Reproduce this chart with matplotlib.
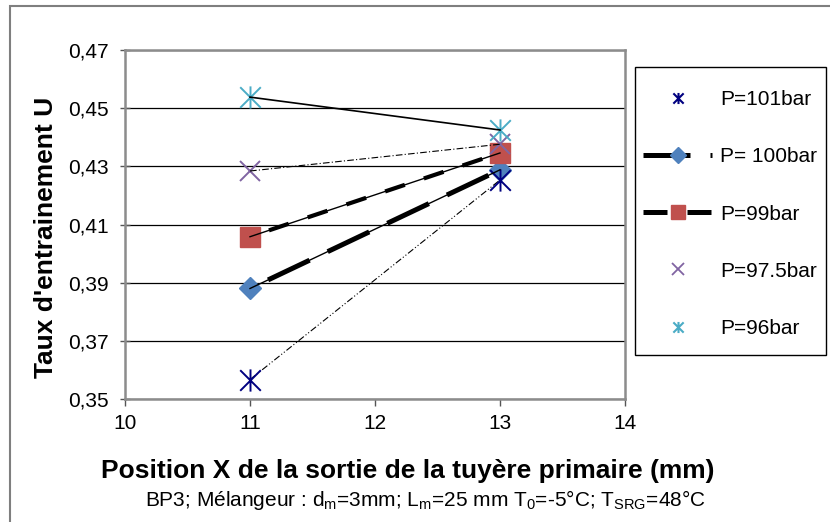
import matplotlib
matplotlib.use("agg")
import matplotlib.pyplot as plt
from matplotlib.lines import Line2D
from matplotlib.path import Path
from matplotlib.patches import Rectangle

plt.rcParams["font.family"] = ["Liberation Sans", "DejaVu Sans"]
plt.rcParams["mathtext.fontset"] = "custom"
plt.rcParams["mathtext.rm"] = "Liberation Sans"

# Données
positions = [11, 13]
labels = ["P=101bar", "P= 100bar", "P=99bar", "P=97.5bar", "P=96bar"]
u_101 = [0.3567, 0.4253]
u_100 = [0.3880, 0.4288]
u_99 = [0.4058, 0.4346]
u_975 = [0.4284, 0.4376]
u_96 = [0.4538, 0.4425]
y_ticks = [0.35, 0.37, 0.39, 0.41, 0.43, 0.45, 0.47]
x_ticks = [10, 11, 12, 13, 14]

# marqueur étoile style Excel : croix + trait vertical
star = Path([(-1, -1), (1, 1), (-1, 1), (1, -1), (0, -1.08), (0, 1.08)],
            [Path.MOVETO, Path.LINETO, Path.MOVETO, Path.LINETO, Path.MOVETO, Path.LINETO])

c101, c100, c99, c975, c96 = "#000080", "#4F81BD", "#C0504D", "#8064A2", "#4BACC6"

fig = plt.figure(figsize=(8.3, 5.22), dpi=100)
ax = fig.add_axes([0.1506, 0.2356, 0.6024, 0.6686])

# marqueurs
ax.plot(positions, u_100, ls="none", marker="D", ms=11, mfc=c100, mec=c100, zorder=3)
ax.plot(positions, u_99, ls="none", marker="s", ms=14.5, mfc=c99, mec=c99, zorder=3)
ax.plot(positions, u_101, ls="none", marker=star, ms=16, mec=c101, mew=1.4, zorder=3)
ax.plot(positions, u_975, ls="none", marker="x", ms=14, mec=c975, mew=1.4, zorder=3)
ax.plot(positions, u_96, ls="none", marker=star, ms=16, mec=c96, mew=1.4, zorder=3)

# lignes (au-dessus des marqueurs, comme Excel)
ax.plot(positions, u_96, color="black", lw=1.2, zorder=4)
ax.plot(positions, u_975, color="black", lw=0.8, dashes=(6, 2, 1, 2), zorder=4)
ax.plot(positions, u_101, color="black", lw=0.8, dashes=(6, 2, 1, 2, 1, 2), zorder=2)
ax.plot(positions, u_99, color="black", lw=1.0, zorder=4)
ax.plot(positions, u_99, color="black", lw=3, ls=(5, (5, 4.8)), zorder=4)
ax.plot(positions, u_100, color="black", lw=1.0, zorder=4)
ax.plot(positions, u_100, color="black", lw=3.6, ls=(9.2, (9.2, 4)), zorder=4)

ax.set_xlim(10, 14)
ax.set_ylim(0.35, 0.47)
ax.set_xticks(x_ticks)
ax.set_yticks(y_ticks)
ax.set_yticklabels([f"{v:.2f}".replace(".", ",") for v in y_ticks])
ax.tick_params(axis="both", labelsize=15, direction="out", length=5, color="#555555", width=1)
ax.tick_params(axis="y", direction="inout", length=7, pad=8)
ax.tick_params(axis="x", pad=6)
ax.grid(axis="y", color="black", lw=0.9)
ax.set_axisbelow(True)
for s in ax.spines.values():
    s.set_color("#8c8c8c")
    s.set_linewidth(1.8)

fig.text(46 / 830, 1 - 237.5 / 522, "Taux d'entrainement U", rotation=90,
         ha="center", va="center", fontsize=19, fontweight="bold")
fig.text(408 / 830, 1 - 478 / 522, "Position X de la sortie de la tuyère primaire (mm)",
         ha="center", va="baseline", fontsize=19, fontweight="bold")
fig.text(425 / 830, 1 - 506 / 522,
         r"BP3; Mélangeur : d$_\mathrm{m}$=3mm; L$_\mathrm{m}$=25 mm T$_\mathrm{0}$=-5°C; T$_\mathrm{SRG}$=48°C",
         ha="center", va="baseline", fontsize=15)

handles = [
    Line2D([], [], ls="none", marker=star, ms=8, mec=c101, mew=1.5),
    Line2D([], [], color="black", lw=3.6, ls=(0, (9.4, 4, 0.6, 4)), marker="D", ms=8.5, mfc=c100, mec=c100),
    Line2D([], [], color="black", lw=3.6, ls=(0, (4.8, 4)), marker="s", ms=9.5, mfc=c99, mec=c99),
    Line2D([], [], ls="none", marker="x", ms=8, mec=c975, mew=1.3),
    Line2D([], [], ls="none", marker=star, ms=8, mec=c96, mew=1.5),
]
leg = fig.legend(handles, labels, loc="upper left", bbox_to_anchor=(643 / 830, 0.827),
                 fontsize=15, frameon=False, handlelength=3.32, handletextpad=0.38,
                 labelspacing=1.83, borderpad=0, borderaxespad=0)

# cadre de la légende
fig.patches.append(Rectangle((635 / 830, 1 - 355 / 522), 191 / 830, 288 / 522, transform=fig.transFigure,
                             fill=False, edgecolor="black", lw=1.0))
# cadre extérieur
fig.patches.append(Rectangle((10 / 830, -0.05), 1.2, (522 - 6) / 522 + 0.05, transform=fig.transFigure,
                             fill=False, edgecolor="#7f7f7f", lw=1.5))

fig.savefig("out.png", dpi=100)
